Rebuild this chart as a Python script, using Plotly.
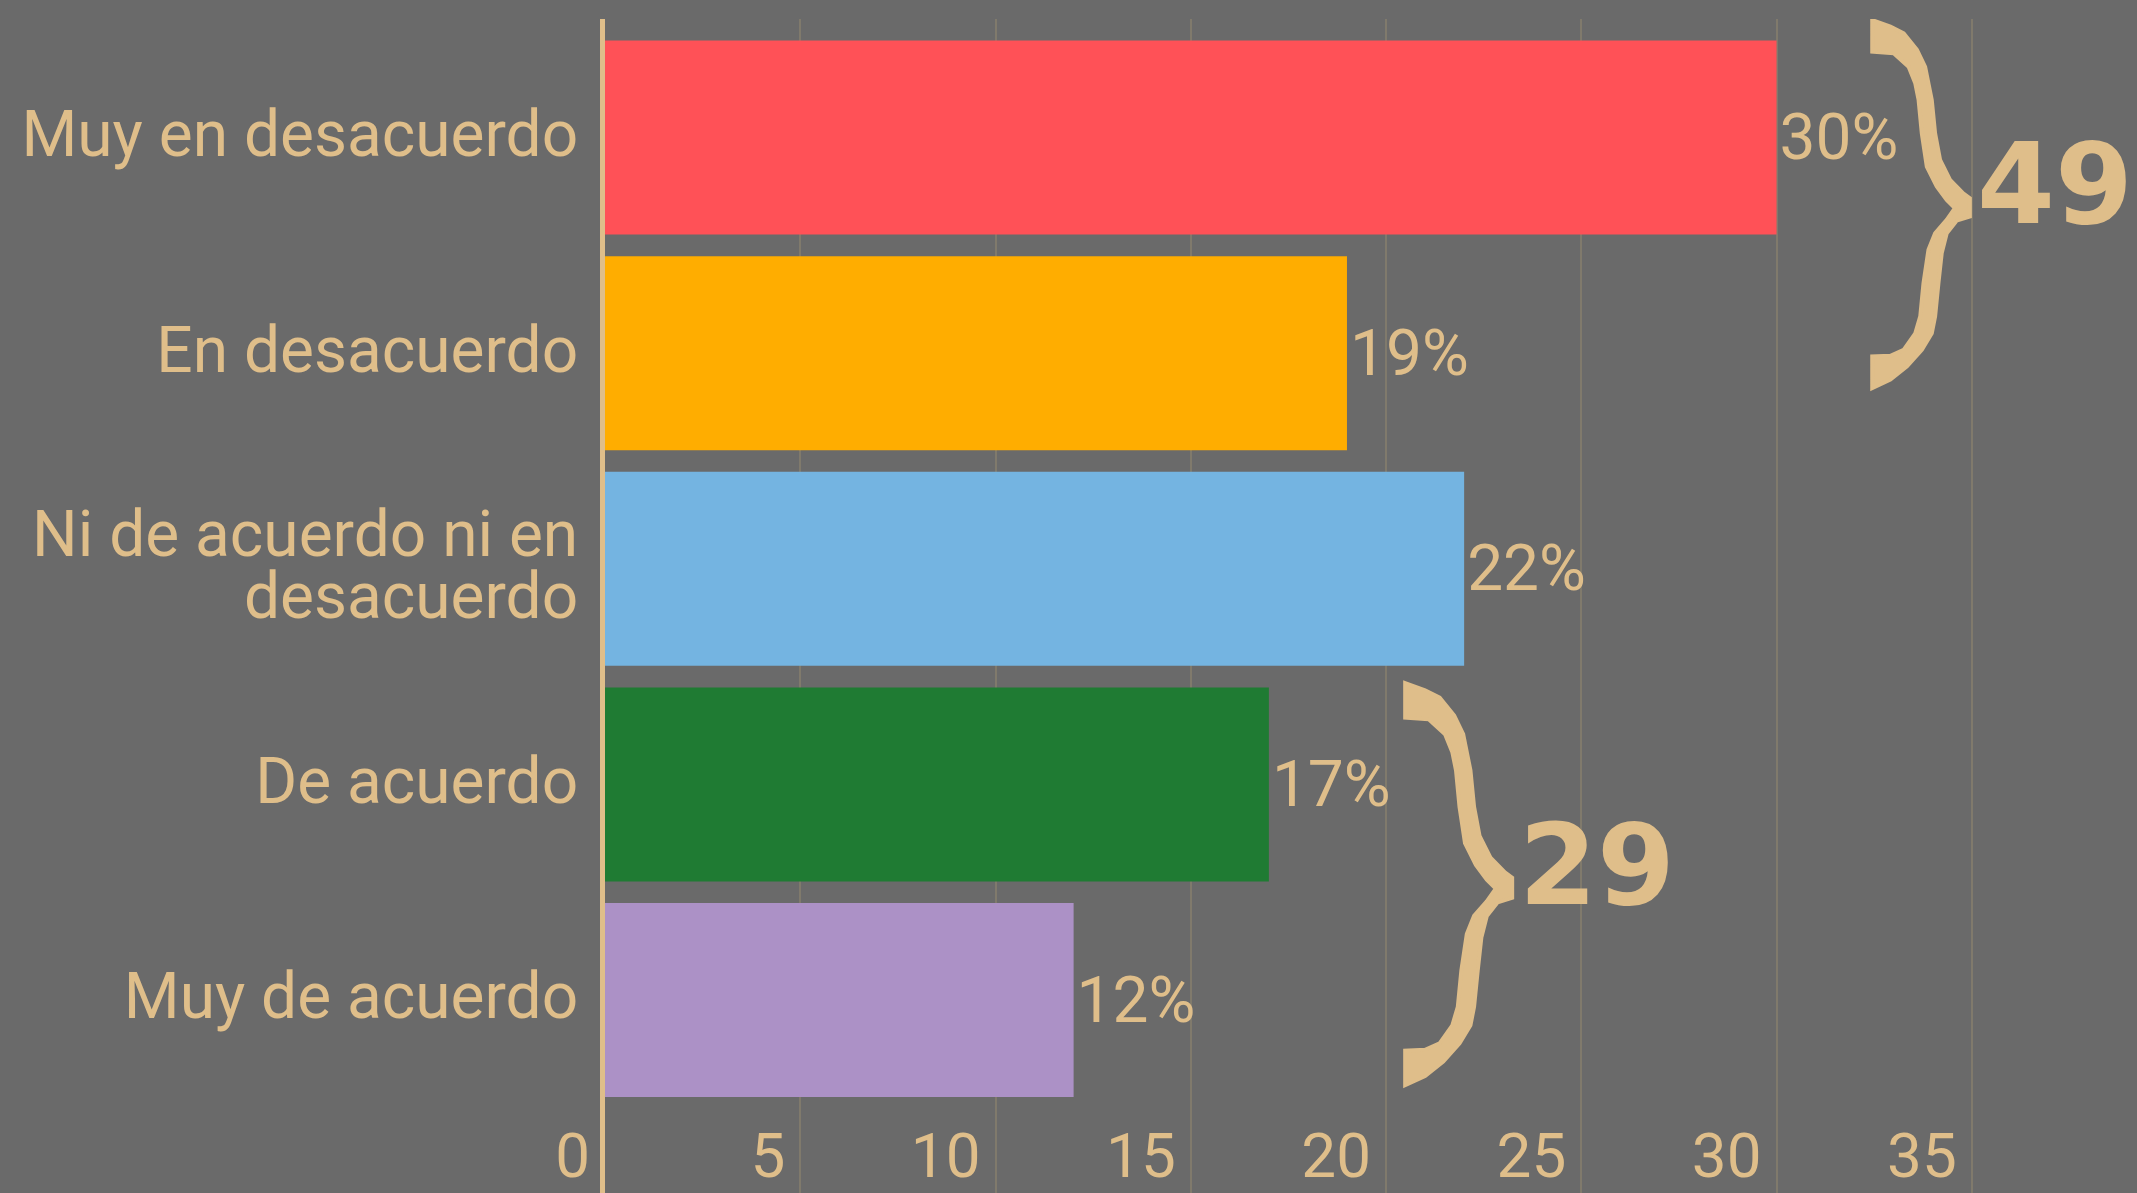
import plotly.graph_objects as go

# ---- data ----
categories = ["Muy en desacuerdo", "En desacuerdo", "Ni de acuerdo ni en<br>desacuerdo",
              "De acuerdo", "Muy de acuerdo"]
values = [30, 19, 22, 17, 12]
bar_colors = ["#FF5157", "#FFAD00", "#74B4E1", "#1F7B33", "#AC91C6"]
x_ticks = [0, 5, 10, 15, 20, 25, 30, 35]
groups = [[0, 1], [3, 4]]          # indices of categories summed under each brace

# ---- style / layout constants ----
BG = "#6A6A6A"
TAN = "#DFBE8A"
GRID = "#807A6C"
FONT = "Roboto"
W, H = 2137, 1193
LINE_OFFSET = 0.145  # vertical offset of wrapped tick-label lines (y units)

# brace geometry (data coords): (x_left, x_tip, y_top, y_bottom) in y units
brace_geom = [(32.45, 34.95, 4.545, 2.838), (20.49, 23.23, 1.47, -0.395)]

# normalized brace outline (u: 0 left .. 1 tip, v: 0 top .. 1 bottom)
brace_pts = [
    (0, 0), (.186, .018), (.322, .036), (.458, .081), (.542, .127), (.610, .217),
    (.644, .308), (.695, .380), (.797, .434), (.932, .471), (1, .484), (1, .534),
    (.864, .545), (.763, .579), (.712, .633), (.678, .715), (.644, .805), (.610, .851),
    (.508, .896), (.356, .941), (.186, .977), (0, 1), (0, .914), (.186, .912),
    (.322, .896), (.441, .851), (.492, .805), (.525, .715), (.576, .624), (.644, .579),
    (.763, .543), (.847, .511), (.763, .489), (.661, .452), (.559, .398), (.508, .308),
    (.475, .217), (.441, .172), (.373, .127), (.220, .090), (0, .086),
]


def brace_path(x0, x1, yt, yb):
    parts = []
    for i, (u, v) in enumerate(brace_pts):
        x = x0 + u * (x1 - x0)
        y = yt - v * (yt - yb)
        parts.append(("M" if i == 0 else "L") + f"{x:.4f},{y:.4f}")
    return " ".join(parts) + " Z"


n = len(categories)
y_pos = [n - 1 - i for i in range(n)]   # first category on top

# tick labels: wrapped labels are split into separate lines for tighter spacing
tick_vals, tick_text = [], []
for yp, cat in zip(y_pos, categories):
    lines = cat.split("<br>")
    if len(lines) == 1:
        tick_vals.append(yp)
        tick_text.append(cat)
    else:
        k = len(lines)
        for j, ln in enumerate(lines):
            tick_vals.append(yp + LINE_OFFSET * (k - 1 - 2 * j))
            tick_text.append(ln)

fig = go.Figure()
fig.add_trace(go.Bar(
    x=values,
    y=y_pos,
    orientation="h",
    marker=dict(color=bar_colors, line=dict(width=0)),
    text=[f"{v}%" for v in values],
    textposition="outside",
    textfont=dict(family=FONT, size=64, color=TAN),
    cliponaxis=False,
    hoverinfo="skip",
    customdata=categories,
))

shapes = []
annotations = []
for g, (x0, x1, yt, yb) in zip(groups, brace_geom):
    shapes.append(dict(type="path", xref="x", yref="y", path=brace_path(x0, x1, yt, yb),
                       fillcolor=TAN, line=dict(width=4, color=TAN), layer="above"))
    total = sum(values[i] for i in g)
    ymid = yt - 0.511 * (yt - yb)
    annotations.append(dict(x=x1, y=ymid, xref="x", yref="y", text=f"<b>{total}</b>",
                            showarrow=False, xanchor="left", yanchor="middle",
                            xshift=5, yshift=24,
                            font=dict(family="DejaVu Sans", size=112, color=TAN)))

fig.update_layout(
    width=W, height=H,
    paper_bgcolor=BG, plot_bgcolor=BG,
    margin=dict(l=605, r=0, t=19, b=0, autoexpand=False),
    bargap=0.1,
    showlegend=False,
    shapes=shapes,
    annotations=annotations,
    xaxis=dict(
        range=[0, 39.23],
        tickvals=x_ticks,
        showgrid=True, gridcolor=GRID, gridwidth=2,
        zeroline=False, showline=False,
        anchor="free", position=0.067,
        ticklabelposition="outside left",
        ticklabelshift=-15,
        ticks="",
        automargin=False,
        tickfont=dict(family=FONT, size=62, color=TAN),
    ),
    yaxis=dict(
        range=[-0.895, 4.55],
        tickvals=tick_vals, ticktext=tick_text,
        showgrid=False, zeroline=False,
        showline=True, linecolor=TAN, linewidth=5,
        ticks="",
        ticklabelstandoff=9,
        ticklabelshift=-4,
        automargin=False,
        tickfont=dict(family=FONT, size=64, color=TAN),
    ),
)

fig.write_html("out.html", config={"displayModeBar": False},
               post_script="document.body.style.margin='0px';")
